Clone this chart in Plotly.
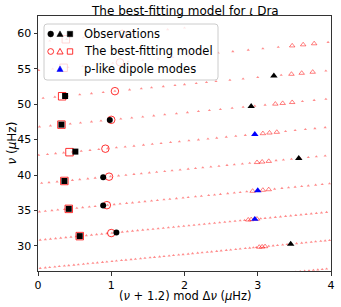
import plotly.graph_objects as go

# ---------------- data (frequencies in µHz) ----------------
dnu = 4.0
offset = 1.2

obs_l0 = [31.87, 35.69, 39.69, 47.78]
obs_l2 = [31.37, 35.22, 39.16, 43.31, 47.12, 51.17]
obs_l1 = [30.25, 42.36, 49.71, 54.02]
obs_l1_plike = [33.76, 37.80, 45.76]

model_l0 = [31.80, 35.74, 39.77, 43.72, 47.80, 51.85, 55.92, 59.95]
model_l2 = [31.37, 35.22, 39.16, 43.23, 47.12, 51.13, 55.15, 59.18]

# p-dominated model dipole modes (drawn larger)
model_l1_p = [29.82, 29.86, 29.90, 33.67, 33.71, 33.79, 37.73, 37.87, 37.95,
              41.79, 41.86, 41.95, 45.87, 45.96, 46.06, 50.04, 50.14, 50.27,
              54.26, 54.40, 54.55, 58.27, 58.42, 58.57]

# g-dominated model dipole modes (small dots)
model_l1_g = [
    26.32, 26.38, 26.44, 26.50, 26.56, 26.62, 26.68, 26.74,
    26.83, 26.90, 26.96, 27.03, 27.09, 27.16, 27.22, 27.29, 27.35, 27.42,
    27.48, 27.55, 27.61, 27.68, 27.74, 27.81, 27.87, 27.94, 28.00, 28.07,
    28.13, 28.20, 28.26, 28.33, 28.39, 28.46, 28.52, 28.59, 28.65, 28.72,
    28.78, 28.85, 28.91, 28.98, 29.04, 29.11, 29.17, 29.24, 29.30, 29.37,
    29.43, 29.50, 29.56, 29.63, 29.69, 29.74, 29.78, 29.95, 30.01, 30.07,
    30.14, 30.20, 30.33, 30.40, 30.46, 30.53, 30.59, 30.66, 30.72, 30.78,
    30.83, 30.90, 30.97, 31.04, 31.11, 31.18, 31.25, 31.32, 31.39, 31.46,
    31.53, 31.60, 31.67, 31.74, 31.81, 31.88, 31.95, 32.02, 32.09, 32.16,
    32.23, 32.30, 32.37, 32.44, 32.51, 32.58, 32.65, 32.72, 32.79, 32.86,
    32.93, 33.00, 33.07, 33.14, 33.21, 33.28, 33.35, 33.42, 33.49, 33.56,
    33.62, 33.75, 33.84, 33.90, 33.97, 34.04, 34.11, 34.18, 34.25, 34.32,
    34.39, 34.46, 34.53, 34.60, 34.67, 34.74,
    34.82, 34.90, 34.99, 35.07, 35.16, 35.24, 35.33, 35.41, 35.50, 35.58,
    35.67, 35.75, 35.84, 35.92, 36.01, 36.09, 36.18, 36.26, 36.35, 36.43,
    36.52, 36.60, 36.69, 36.78, 36.85, 36.95, 37.03, 37.13, 37.21, 37.29,
    37.39, 37.48, 37.56, 37.65, 37.80, 38.03, 38.13, 38.22, 38.31, 38.40,
    38.49, 38.59, 38.68, 38.78,
    38.85, 38.95, 39.06, 39.16, 39.27, 39.37, 39.48, 39.58, 39.69, 39.79,
    39.90, 40.00, 40.11, 40.21, 40.32, 40.42, 40.53, 40.63, 40.74, 40.85,
    40.95, 41.05, 41.16, 41.27, 41.38, 41.48, 41.59, 41.69, 42.05, 42.15,
    42.26, 42.38, 42.49, 42.60, 42.72,
    42.81, 42.93, 43.04, 43.15, 43.27, 43.39, 43.51, 43.63, 43.75, 43.87,
    43.99, 44.11, 44.24, 44.36, 44.48, 44.61, 44.73, 44.86, 44.99, 45.12,
    45.24, 45.37, 45.50, 45.63, 45.75, 46.18, 46.31, 46.45, 46.58, 46.72,
    46.82, 46.97, 47.11, 47.24, 47.38, 47.53, 47.66, 47.79, 47.93, 48.08,
    48.23, 48.38, 48.53, 48.69, 48.84, 48.99, 49.14, 49.29, 49.45, 49.60,
    49.76, 49.90, 50.41, 50.57, 50.73,
    50.87, 51.03, 51.20, 51.37, 51.53, 51.69, 51.85, 52.05, 52.21, 52.35,
    52.51, 52.67, 52.80, 52.96, 53.10, 53.23, 53.42, 53.60, 53.80, 54.01,
    54.12, 54.73,
    54.81, 55.00, 55.21, 55.41, 55.62, 55.82, 56.03, 56.23, 56.44, 56.64,
    56.85, 57.05, 57.26, 57.46, 57.67, 57.87, 58.08, 58.76,
    58.96, 59.19, 59.42, 59.65, 59.88, 60.11, 60.34, 60.57, 60.80,
]

legend_labels = ["Observations", "The best-fitting model", "p-like dipole modes"]
title_text = "The best-fitting model for <i>ι</i> Dra"
xaxis_label = "(<i>ν</i> + 1.2) mod Δ<i>ν</i> (<i>μ</i>Hz)"
yaxis_label = "<i>ν</i> (<i>μ</i>Hz)"
x_ticks = [0, 1, 2, 3, 4]
y_ticks = [30, 35, 40, 45, 50, 55, 60]


def echelle_x(freqs):
    return [(f + offset) % dnu for f in freqs]


FONT = "DejaVu Sans"
RED_LIGHT = "rgba(255,0,0,0.45)"
RED = "rgba(255,0,0,0.8)"

fig = go.Figure()


def add(freqs, symbol, size, color, line_color=None, line_width=0):
    fig.add_trace(go.Scatter(
        x=echelle_x(freqs), y=freqs, mode="markers", showlegend=False,
        hoverinfo="skip",
        marker=dict(symbol=symbol, size=size, color=color,
                    line=dict(color=line_color or color, width=line_width))))


add(model_l1_g, "triangle-up", 2.8, RED_LIGHT)
add(model_l1_p, "triangle-up-open", 4.8, "rgba(255,0,0,0.5)", line_width=1)
add(model_l0, "circle-open", 7.5, RED, line_width=1)
add(model_l2, "square-open", 7.5, RED, line_width=1)
add(obs_l0, "circle", 6, "black")
add(obs_l2, "square", 6, "black")
add(obs_l1, "triangle-up", 6.5, "black")
add(obs_l1_plike, "triangle-up", 6.5, "blue")

# ---------- manual legend (paper coordinates, drawn as shapes) ----------
ML, MR, MT, MB = 38, 10, 16, 36
W, H = 341, 307
pw, ph = W - ML - MR, H - MT - MB


def px(xp):
    return (xp - ML) / pw


def py(yp):
    return (H - MB - yp) / ph


# rounded legend frame
x0, x1, y0, y1 = px(44), px(218), py(80), py(24)
rx, ry = 3 / pw, 3 / ph
path = (f"M {x0+rx},{y0} L {x1-rx},{y0} Q {x1},{y0} {x1},{y0+ry} "
        f"L {x1},{y1-ry} Q {x1},{y1} {x1-rx},{y1} L {x0+rx},{y1} "
        f"Q {x0},{y1} {x0},{y1-ry} L {x0},{y0+ry} Q {x0},{y0} {x0+rx},{y0} Z")
fig.add_shape(type="path", path=path, xref="paper", yref="paper",
              fillcolor="rgba(255,255,255,0.8)",
              line=dict(color="#cccccc", width=1), layer="above")

rows_py = [34, 51.5, 69]
cols_px = [50.7, 60, 70]


def leg_circle(cx, cy, r, fill, line, lw):
    fig.add_shape(type="circle", xref="paper", yref="paper",
                  x0=px(cx - r), x1=px(cx + r), y0=py(cy + r), y1=py(cy - r),
                  fillcolor=fill, line=dict(color=line, width=lw),
                  layer="above")


def leg_square(cx, cy, h, fill, line, lw):
    fig.add_shape(type="rect", xref="paper", yref="paper",
                  x0=px(cx - h), x1=px(cx + h), y0=py(cy + h), y1=py(cy - h),
                  fillcolor=fill, line=dict(color=line, width=lw),
                  layer="above")


def leg_triangle(cx, cy, h, fill, line, lw):
    p = (f"M {px(cx - h)},{py(cy + h * 0.8)} L {px(cx + h)},{py(cy + h * 0.8)} "
         f"L {px(cx)},{py(cy - h * 1.0)} Z")
    fig.add_shape(type="path", path=p, xref="paper", yref="paper",
                  fillcolor=fill, line=dict(color=line, width=lw),
                  layer="above")


r0, r1, r2 = rows_py
leg_circle(cols_px[0], r0, 2.9, "black", "black", 0.5)
leg_triangle(cols_px[1], r0, 3.1, "black", "black", 0.5)
leg_square(cols_px[2], r0, 2.7, "black", "black", 0.5)
leg_circle(cols_px[0], r1, 2.9, "rgba(0,0,0,0)", RED, 1)
leg_triangle(cols_px[1], r1, 3.1, "rgba(0,0,0,0)", RED, 1)
leg_square(cols_px[2], r1, 2.7, "rgba(0,0,0,0)", RED, 1)
leg_triangle(cols_px[1], r2, 3.1, "blue", "blue", 0.5)

for r, lab in enumerate(legend_labels):
    fig.add_annotation(x=px(82), y=py(rows_py[r]), xref="paper", yref="paper",
                       text=lab, showarrow=False, xanchor="left",
                       yanchor="middle", font=dict(family=FONT, size=11.5,
                                                   color="black"))

# titles
fig.add_annotation(x=0.5, y=1, xref="paper", yref="paper", text=title_text,
                   showarrow=False, yanchor="middle", yshift=5,
                   font=dict(family=FONT, size=12, color="black"))
fig.add_annotation(x=0.5, y=0, xref="paper", yref="paper", text=xaxis_label,
                   showarrow=False, yanchor="middle", yshift=-25, borderpad=0,
                   font=dict(family=FONT, size=11.5, color="black"))
fig.add_annotation(x=0, y=0.5, xref="paper", yref="paper", text=yaxis_label,
                   showarrow=False, xanchor="center", xshift=-27,
                   textangle=-90, font=dict(family=FONT, size=12, color="black"))

axis_common = dict(showline=True, linecolor="#333333", linewidth=1,
                   mirror=True, ticks="outside", ticklen=3.5, tickwidth=1,
                   tickcolor="#333333", showgrid=False, zeroline=False,
                   tickfont=dict(family=FONT, size=11, color="black"))

fig.update_layout(
    width=W, height=H, margin=dict(l=ML, r=MR, t=MT, b=MB, autoexpand=False),
    paper_bgcolor="white", plot_bgcolor="white",
    xaxis=dict(range=[0, 4], tickvals=x_ticks, **axis_common),
    yaxis=dict(range=[26.44, 62.47], tickvals=y_ticks, **axis_common),
    showlegend=False,
)

fig.write_html("out.html", config={"displayModeBar": False},
               post_script="document.body.style.margin='0';"
                           "document.body.style.padding='0';")
